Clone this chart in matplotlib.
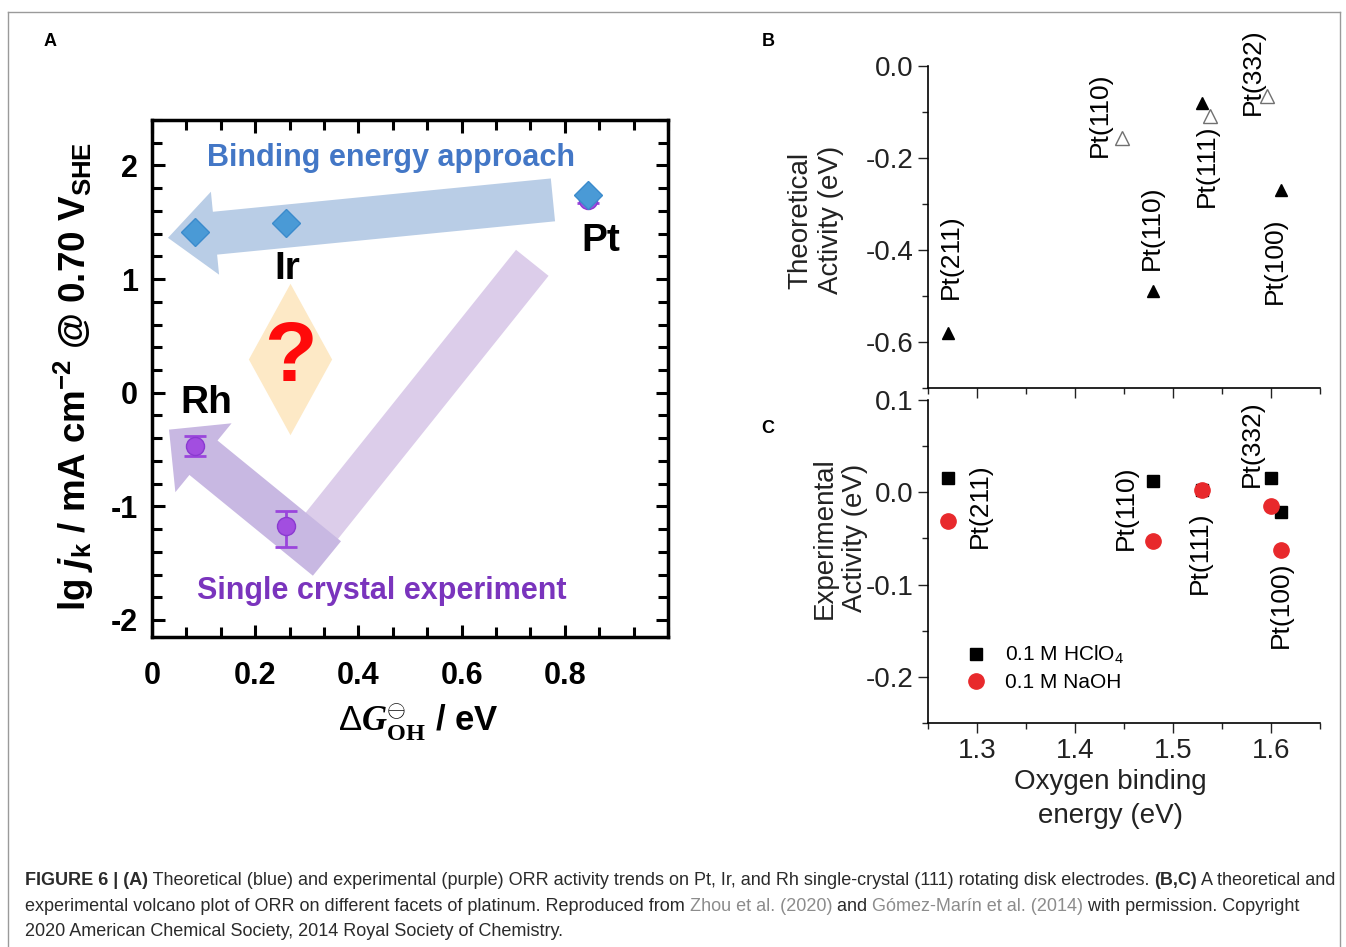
import matplotlib
matplotlib.use('Agg')
import matplotlib.pyplot as plt
from matplotlib.ticker import MultipleLocator
from matplotlib import font_manager
from matplotlib.lines import Line2D

plt.rcParams['font.family'] = ['Liberation Sans', 'DejaVu Sans']
plt.rcParams['mathtext.fontset'] = 'custom'
plt.rcParams['mathtext.rm'] = 'Liberation Sans'
plt.rcParams['mathtext.it'] = 'Liberation Sans:italic:bold'
plt.rcParams['mathtext.bf'] = 'Liberation Sans:bold'
plt.rcParams['mathtext.bfit'] = 'Liberation Serif:italic:bold'
plt.rcParams['mathtext.cal'] = 'Liberation Serif:bold'

# ---------------- data ----------------
# Panel A
a_metals = ['Rh', 'Ir', 'Pt']
a_dg_oh = [0.083, 0.26, 0.845]
a_theory = [1.41, 1.49, 1.74]
a_expt = [-0.47, -1.17, 1.70]
a_err_low = [0.09, 0.19, 0.03]
a_err_high = [0.09, 0.13, 0.03]

# Panel B (theoretical activity)
b_obe_filled = [1.27, 1.48, 1.53, 1.61]
b_act_filled = [-0.58, -0.49, -0.08, -0.27]
b_obe_open = [1.448, 1.538, 1.596]
b_act_open = [-0.157, -0.109, -0.065]
b_labels = ['Pt(211)', 'Pt(110)', 'Pt(110)', 'Pt(111)', 'Pt(332)', 'Pt(100)']
b_label_x = [1.2734, 1.425, 1.478, 1.535, 1.581, 1.604]
b_label_y = [-0.414, -0.105, -0.351, -0.216, -0.013, -0.423]

# Panel C (experimental activity)
c_obe = [1.27, 1.48, 1.53, 1.60, 1.61]
c_hclo4 = [0.016, 0.012, 0.003, 0.016, -0.021]
c_naoh = [-0.031, -0.053, 0.002, -0.015, -0.062]
c_labels = ['Pt(211)', 'Pt(110)', 'Pt(111)', 'Pt(332)', 'Pt(100)']
c_label_x = [1.303, 1.452, 1.527, 1.580, 1.610]
c_label_y = [-0.014, -0.017, -0.066, 0.053, -0.122]
legend_labels = ['0.1 M HClO$_4$', '0.1 M NaOH']

# ---------------- figure ----------------
W, H = 1346, 947
fig = plt.figure(figsize=(W / 100, H / 100), dpi=100)


def fx(px):
    return px / W


def fy(py):
    return 1 - py / H


# outer frame
for xs, ys in [([8, 8], [12, 960]), ([8, 1340], [12, 12]), ([1340, 1340], [12, 960])]:
    fig.add_artist(Line2D([fx(v) for v in xs], [fy(v) for v in ys], color='#9a9a9a', lw=1.0))

# ---------------- Panel A ----------------
axA = fig.add_axes([fx(152), fy(637), fx(668) - fx(152), fy(120) - fy(637)])
axA.set_xlim(0, 1.0)
axA.set_ylim(-2.15, 2.4)

blue_fill = '#b9cde6'
# binding energy arrow
axA.annotate('', xy=(0.031, 1.363), xytext=(0.777, 1.697),
             arrowprops=dict(arrowstyle='simple,head_length=3.4,head_width=6.0,tail_width=3.1',
                             mutation_scale=10, fc=blue_fill, ec='none', shrinkA=0, shrinkB=0),
             zorder=1)
# single crystal V arrow
axA.plot([0.737, 0.314], [1.143, -1.257], lw=30, solid_capstyle='butt', color='#dccdea', zorder=1)
axA.annotate('', xy=(0.033, -0.325), xytext=(0.339, -1.459),
             arrowprops=dict(arrowstyle='simple,head_length=3.2,head_width=6.4,tail_width=3.2',
                             mutation_scale=10, fc='#c8b8e2', ec='none', shrinkA=0, shrinkB=0),
             zorder=1.5)
# question diamond
axA.plot([0.268], [0.299], marker=[(0, 1), (0.55, 0), (0, -1), (-0.55, 0)], ms=109,
         color='#fde9c6', mec='none', zorder=1)
axA.text(0.268, 0.30, '?', color='#ff0a0a', fontsize=62, fontweight='bold',
         ha='center', va='center', zorder=3)

# experimental points
axA.errorbar(a_dg_oh, a_expt, yerr=[a_err_low, a_err_high], fmt='o', ms=13,
             color='#a24ee0', mfc='#a24ee0', mec='#8a3ad0', ecolor='#9a45dc',
             elinewidth=2, capsize=8, capthick=2, zorder=4)
# theoretical points
axA.plot(a_dg_oh, a_theory, 'D', ms=14, color='#4a9ad6', mec='#3b8bcc', zorder=5)

axA.text(0.463, 2.066, 'Binding energy approach', color='#4377c6', fontsize=22,
         fontweight='bold', ha='center', va='center')
axA.text(0.446, -1.741, 'Single crystal experiment', color='#7a34bd', fontsize=22,
         fontweight='bold', ha='center', va='center')
axA.text(0.870, 1.336, 'Pt', fontsize=28, fontweight='bold', ha='center', va='center')
axA.text(0.262, 1.09, 'Ir', fontsize=28, fontweight='bold', ha='center', va='center')
axA.text(0.106, -0.088, 'Rh', fontsize=28, fontweight='bold', ha='center', va='center')

axA.xaxis.set_major_locator(MultipleLocator(0.2))
axA.xaxis.set_minor_locator(MultipleLocator(0.2 / 3))
axA.yaxis.set_major_locator(MultipleLocator(1))
axA.yaxis.set_minor_locator(MultipleLocator(0.2))
axA.set_xticks([0, 0.2, 0.4, 0.6, 0.8])
axA.set_xticklabels(['0', '0.2', '0.4', '0.6', '0.8'])
axA.set_yticks([-2, -1, 0, 1, 2])
axA.set_yticklabels(['-2', '-1', '0', '1', '2'])
axA.tick_params(which='both', direction='in', top=True, right=True, width=2.2)
axA.tick_params(which='major', length=9, labelsize=22)
axA.tick_params(axis='x', which='major', pad=17)
axA.tick_params(axis='y', which='major', pad=10)
axA.tick_params(which='minor', length=7)
for lab in axA.get_xticklabels() + axA.get_yticklabels():
    lab.set_fontweight('bold')
for s in axA.spines.values():
    s.set_linewidth(2.5)

fig.text(fx(74), fy(376), r'lg $j_{\mathbf{k}}$ / mA cm$^{\mathbf{-2}}$ @ 0.70 V$_{\mathbf{SHE}}$',
         rotation=90, fontsize=26.5, fontweight='bold', ha='center', va='center')
fig.text(fx(418), fy(722), r'$\mathrm{\Delta}\mathbfit{G}^{\ominus}_{\mathcal{OH}}$ / eV',
         fontsize=25, fontweight='bold', ha='center', va='center')

# ---------------- Panel B ----------------
axB = fig.add_axes([fx(928), fy(388), fx(1320) - fx(928), fy(66) - fy(388)])
axB.set_xlim(1.25, 1.65)
axB.set_ylim(-0.70, 0.0)
axB.plot(b_obe_filled, b_act_filled, '^', ms=9, color='black')
axB.plot(b_obe_open, b_act_open, '^', ms=10, mfc='white', mec='#707070', mew=1.0)
for t, x, y in zip(b_labels, b_label_x, b_label_y):
    axB.text(x, y, t, rotation=90, fontsize=19, ha='center', va='center')

# ---------------- Panel C ----------------
axC = fig.add_axes([fx(928), fy(723), fx(1320) - fx(928), fy(400) - fy(723)])
axC.set_xlim(1.25, 1.65)
axC.set_ylim(-0.25, 0.1)
hs = axC.plot(c_obe, c_hclo4, 's', ms=9, color='black', zorder=3)
hc = axC.plot(c_obe, c_naoh, 'o', ms=11, color='#e8292c', zorder=4)
for t, x, y in zip(c_labels, c_label_x, c_label_y):
    axC.text(x, y, t, rotation=90, fontsize=19, ha='center', va='center')
axC.legend([hs[0], hc[0]], legend_labels, loc='upper left', bbox_to_anchor=(0.095, 0.245),
           frameon=False, fontsize=15, handlelength=1.0, handletextpad=0.9,
           labelspacing=0.35, borderpad=0, borderaxespad=0)

for ax in (axB, axC):
    ax.spines['top'].set_visible(False)
    ax.spines['right'].set_visible(False)
    ax.xaxis.set_major_locator(MultipleLocator(0.1))
    ax.xaxis.set_minor_locator(MultipleLocator(0.05))
    ax.tick_params(which='both', direction='out', width=1.0, labelsize=20, colors='#222222')
    ax.tick_params(which='major', length=7)
    ax.tick_params(which='minor', length=4)
    for s in ax.spines.values():
        s.set_linewidth(1.2)
axB.yaxis.set_major_locator(MultipleLocator(0.2))
axB.yaxis.set_minor_locator(MultipleLocator(0.1))
axB.tick_params(axis='x', labelbottom=False)
axC.yaxis.set_major_locator(MultipleLocator(0.1))
axC.yaxis.set_minor_locator(MultipleLocator(0.05))
axB.yaxis.set_major_formatter(matplotlib.ticker.FormatStrFormatter('%.1f'))
axC.yaxis.set_major_formatter(matplotlib.ticker.FormatStrFormatter('%.1f'))
axC.xaxis.set_major_formatter(matplotlib.ticker.FormatStrFormatter('%.1f'))
axC.set_xticks([1.3, 1.4, 1.5, 1.6])

fig.text(fx(816), fy(220), 'Theoretical\nActivity (eV)', rotation=90, fontsize=20,
         ha='center', va='center', multialignment='center', linespacing=1.25, color='#222222')
fig.text(fx(840), fy(538), 'Experimental\nActivity (eV)', rotation=90, fontsize=20,
         ha='center', va='center', multialignment='center', linespacing=1.25, color='#222222')
fig.text(fx(1110), fy(799), 'Oxygen binding\nenergy (eV)', fontsize=20,
         ha='center', va='center', multialignment='center', linespacing=1.4, color='#222222')

# panel letters
fig.text(fx(50), fy(41), 'A', fontsize=13, fontweight='bold', ha='center', va='center')
fig.text(fx(768), fy(41), 'B', fontsize=13, fontweight='bold', ha='center', va='center')
fig.text(fx(768), fy(428), 'C', fontsize=13, fontweight='bold', ha='center', va='center')

# ---------------- caption ----------------
names = {f.name for f in font_manager.fontManager.ttflist}
cap_family = 'Liberation Sans Narrow' if 'Liberation Sans Narrow' in names else 'Liberation Sans'
renderer = fig.canvas.get_renderer()
txt_c = '#2b2b2b'
link_c = '#8c8c8c'
caption_lines = [
    [('FIGURE 6 | (A)', 'bold', txt_c),
     (' Theoretical (blue) and experimental (purple) ORR activity trends on Pt, Ir, and Rh single-crystal (111) rotating disk electrodes. ', 'normal', txt_c),
     ('(B,C)', 'bold', txt_c), (' A theoretical and', 'normal', txt_c)],
    [('experimental volcano plot of ORR on different facets of platinum. Reproduced from ', 'normal', txt_c),
     ('Zhou et al. (2020)', 'normal', link_c), (' and ', 'normal', txt_c),
     ('Gómez-Marín et al. (2014)', 'normal', link_c), (' with permission. Copyright', 'normal', txt_c)],
    [('2020 American Chemical Society, 2014 Royal Society of Chemistry.', 'normal', txt_c)],
]


def piece_width(s, weight, size):
    t1 = fig.text(0, 0, s + '|', fontsize=size, fontweight=weight, family=cap_family)
    t2 = fig.text(0, 0, '|', fontsize=size, fontweight=weight, family=cap_family)
    w = t1.get_window_extent(renderer).width - t2.get_window_extent(renderer).width
    t1.remove()
    t2.remove()
    return w


base = 12
w1 = sum(piece_width(s, wt, base) for s, wt, c in caption_lines[0])
cap_size = base * 1308 / w1
for line, ypx in zip(caption_lines, [880, 906, 931]):
    x = 25
    for s, wt, c in line:
        fig.text(fx(x), fy(ypx), s, fontsize=cap_size, fontweight=wt, color=c,
                 family=cap_family, ha='left', va='center')
        x += piece_width(s, wt, cap_size)

fig.savefig('out.png', dpi=100)
